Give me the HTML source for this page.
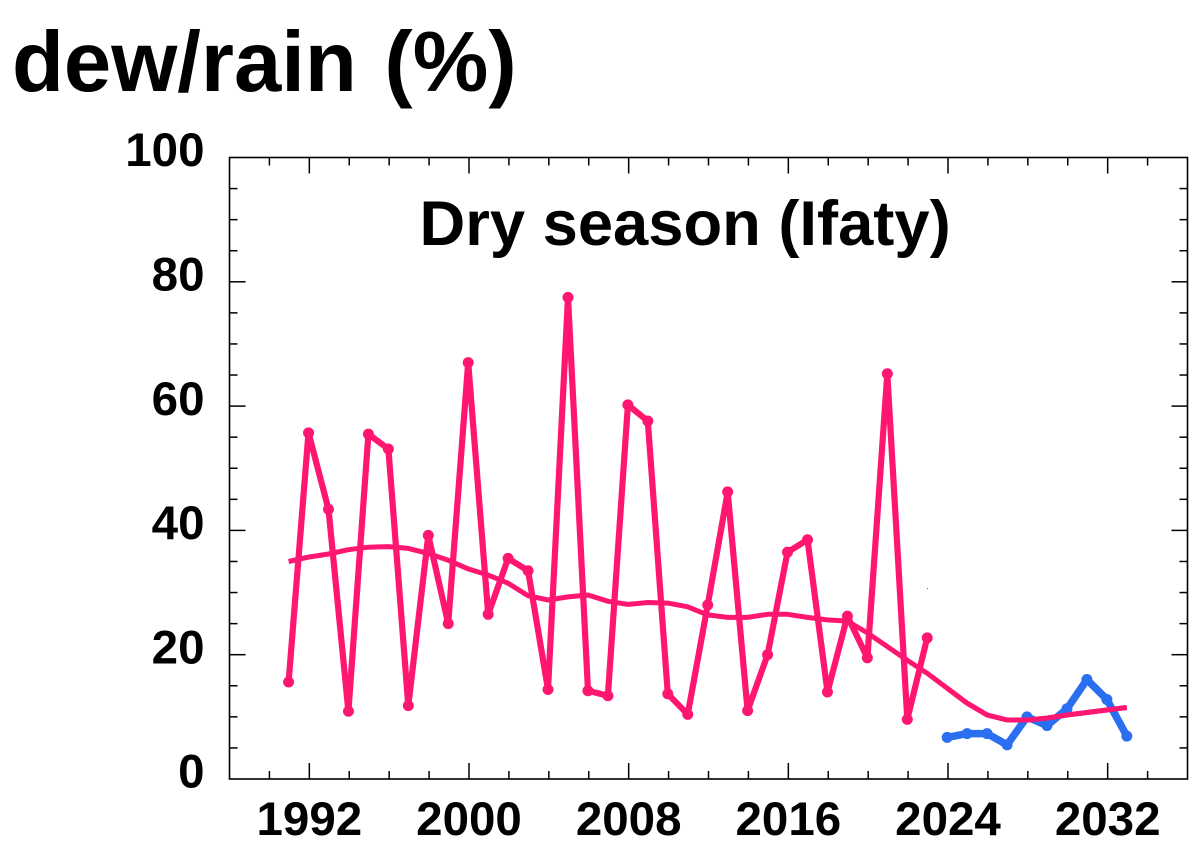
<!DOCTYPE html>
<html lang="en">
<head>
<meta charset="utf-8">
<title>Dew/rain, dry season (Ifaty)</title>
<style>
html,body{margin:0;padding:0;background:#fff;width:1200px;height:859px;overflow:hidden}
svg{display:block}
text{font-family:"Liberation Sans",sans-serif;font-weight:700;fill:#000}
</style>
</head>
<body>
<svg id="chart" xmlns="http://www.w3.org/2000/svg" width="1200" height="859" viewBox="0 0 1200 859">
  <text x="12" y="91" font-size="85" style="word-spacing:4px">dew/rain (%)</text>
  <text x="419.5" y="245" font-size="63.3">Dry season (Ifaty)</text>
  <rect x="229.5" y="157.5" width="958" height="621.5" fill="none" stroke="#000" stroke-width="1.6"/>
  <g id="ticks"></g>
  <g id="labels"></g>
  <g id="series"></g>
  <rect x="927" y="588" width="1" height="1" fill="#ff1670"/>
</svg>
<script>
const dewYears = [1991,1992,1993,1994,1995,1996,1997,1998,1999,2000,2001,2002,2003,2004,2005,2006,2007,2008,2009,2010,2011,2012,2013,2014,2015,2016,2017,2018,2019,2020,2021,2022,2023];
const dewValues = [15.6,55.7,43.4,10.9,55.5,53.1,11.8,39.2,25,67,26.5,35.5,33.5,14.4,77.5,14.2,13.4,60.2,57.6,13.7,10.4,28,46.2,11,20,36.5,38.5,14,26.2,19.5,65.2,9.6,22.7];
const forecastYears = [2024,2025,2026,2027,2028,2029,2030,2031,2032,2033];
const forecastValues = [6.7,7.3,7.3,5.5,10,8.6,11.3,16,12.8,6.9];
const smoothYears = [1991,1992,1993,1994,1995,1996,1997,1998,1999,2000,2001,2002,2003,2004,2005,2006,2007,2008,2009,2010,2011,2012,2013,2014,2015,2016,2017,2018,2019,2020,2021,2022,2023,2024,2025,2026,2027,2028,2029,2030,2031,2032,2033];
const smoothValues = [35,35.7,36.2,36.9,37.3,37.4,37.1,36.3,35.2,33.8,32.8,31.5,29.5,28.8,29.3,29.6,28.6,28.1,28.4,28.3,27.7,26.4,26,26,26.5,26.5,26,25.6,25.4,23.5,21.3,19.1,17,14.6,12.2,10.3,9.5,9.5,9.8,10.3,10.7,11.1,11.5];
const xTickLabels = [1992,2000,2008,2016,2024,2032];
const yTickLabels = [0,20,40,60,80,100];
const xDomain = [1988,2036];
const yDomain = [0,100];

const NS = 'http://www.w3.org/2000/svg';
const L = 229.5, R = 1187.5, T = 157.5, B = 779;
const PINK = '#ff1670', BLUE = '#2a6ff0';
const MARK_SHIFT = -0.8;
function xScale(v){ return L + (v - xDomain[0]) / (xDomain[1] - xDomain[0]) * (R - L); }
function yScale(v){ return B - (v - yDomain[0]) / (yDomain[1] - yDomain[0]) * (B - T); }
function xMark(v){ return xScale(v) + MARK_SHIFT; }
function make(tag, attrs, parent){
  const el = document.createElementNS(NS, tag);
  for (const k in attrs) el.setAttribute(k, attrs[k]);
  parent.appendChild(el);
  return el;
}
const tickG = document.getElementById('ticks');
const labelG = document.getElementById('labels');
const seriesG = document.getElementById('series');

for (let yr = xDomain[0] + 2; yr < xDomain[1]; yr += 2) {
  const major = xTickLabels.indexOf(yr) >= 0;
  const len = major ? 16 : 8;
  const x = xScale(yr);
  const b = make('line', {x1:x, x2:x, y1:B, y2:B-len, stroke:'#000', 'stroke-width':1.5}, tickG);
  
  
  const t = make('line', {x1:x, x2:x, y1:T, y2:T+len, stroke:'#000', 'stroke-width':1.5}, tickG);
  
  
}
for (let v = yDomain[0] + 5; v < yDomain[1]; v += 5) {
  const major = yTickLabels.indexOf(v) >= 0;
  const len = major ? 16 : 8;
  const y = yScale(v);
  const l = make('line', {x1:L, x2:L+len, y1:y, y2:y, stroke:'#000', 'stroke-width':1.5}, tickG);
  
  
  const r = make('line', {x1:R, x2:R-len, y1:y, y2:y, stroke:'#000', 'stroke-width':1.5}, tickG);
  
  
}
xTickLabels.forEach(function(v){
  const t = make('text', {x:xScale(v), y:835, 'font-size':47.5, 'text-anchor':'middle'}, labelG);
  
  
  t.textContent = v;
});
yTickLabels.forEach(function(v){
  const t = make('text', {x:204.5, y:yScale(v)+8.7, 'font-size':47.5, 'text-anchor':'end'}, labelG);
  
  
  t.textContent = v;
});
function pts(xs, ys){
  return xs.map(function(x, i){ return xMark(x).toFixed(1) + ',' + yScale(ys[i]).toFixed(1); }).join(' ');
}
const smoothLine = make('polyline', {points:pts(smoothYears, smoothValues), fill:'none', stroke:PINK, 'stroke-width':5, 'stroke-linejoin':'round'}, seriesG);


const dewLine = make('polyline', {points:pts(dewYears, dewValues), fill:'none', stroke:PINK, 'stroke-width':6.2, 'stroke-linejoin':'round'}, seriesG);


dewYears.forEach(function(yr, i){
  const c = make('circle', {cx:xMark(yr), cy:yScale(dewValues[i]), r:5.5, fill:PINK}, seriesG);
  
  
});
const forecastLine = make('polyline', {points:pts(forecastYears, forecastValues), fill:'none', stroke:BLUE, 'stroke-width':7.5, 'stroke-linejoin':'round'}, seriesG);


forecastYears.forEach(function(yr, i){
  const c = make('circle', {cx:xMark(yr), cy:yScale(forecastValues[i]), r:5.5, fill:BLUE}, seriesG);
  
  
});
// The trend line passes over the blue series in the reference.
const smoothTop = make('polyline', {points:pts(smoothYears.slice(33), smoothValues.slice(33)), fill:'none', stroke:PINK, 'stroke-width':5, 'stroke-linejoin':'round'}, seriesG);


</script>
</body>
</html>
